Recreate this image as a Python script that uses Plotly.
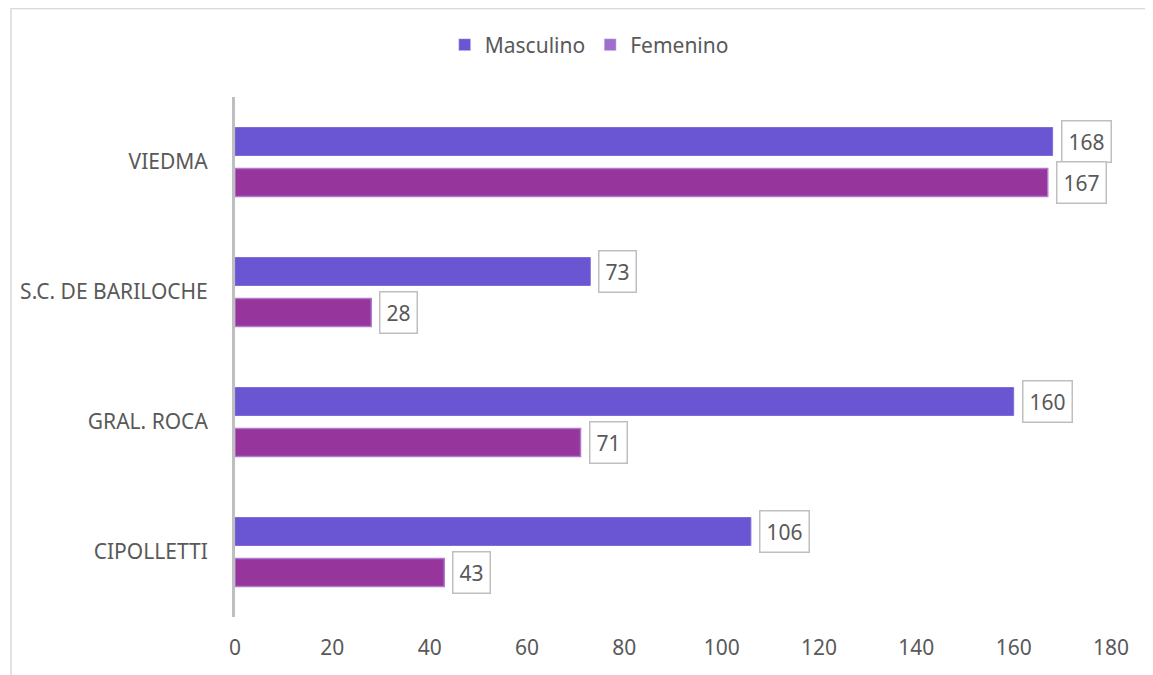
import plotly.graph_objects as go

categories = ["CIPOLLETTI", "GRAL. ROCA", "S.C. DE BARILOCHE", "VIEDMA"]
masculino = [106, 160, 73, 168]
femenino = [43, 71, 28, 167]
x_ticks = [0, 20, 40, 60, 80, 100, 120, 140, 160, 180]

OFF = 8  # page body margin
W, H = 1153, 675
L, R, T, B = 233 - OFF, 1153 - 1111 + OFF, 97 - OFF, 675 - 617 + OFF
pw, ph = W - L - R, H - T - B
FONT = "Noto Sans"
FS = 21

def px_x(p):
    return (p - OFF - L) / pw

def px_y(p):
    return (H - B - (p - OFF)) / ph

fig = go.Figure()
fig.add_trace(go.Bar(
    y=categories, x=femenino, orientation="h", name="Femenino",
    marker=dict(color="#96359C", line=dict(color="#B07ACB", width=1.5)),
    showlegend=False, offsetgroup="f",
))
fig.add_trace(go.Bar(
    y=categories, x=masculino, orientation="h", name="Masculino",
    marker=dict(color="#6A56D2", line=dict(color="#7F6CD8", width=1)),
    showlegend=False, offsetgroup="m",
))
# legend entries (swatch colours as in the reference)
fig.add_trace(go.Bar(y=[None], x=[None], orientation="h", name="Masculino",
                     marker=dict(color="#6A56D2"), legendrank=1, offsetgroup="m"))
fig.add_trace(go.Bar(y=[None], x=[None], orientation="h", name="Femenino",
                     marker=dict(color="#A06ECC"), legendrank=2, offsetgroup="f"))

for cat, m, f in zip(categories, masculino, femenino):
    for val, ys in ((m, 20.5), (f, -20.5)):
        fig.add_annotation(
            x=val, y=cat, xref="x", yref="y", text=str(val), showarrow=False,
            xanchor="left", yanchor="middle", xshift=8, yshift=ys,
            font=dict(family=FONT, size=FS, color="#595959"),
            bordercolor="#BFBFBF", borderwidth=1.5, borderpad=6,
            bgcolor="white",
        )

fig.add_shape(
    type="rect", xref="paper", yref="paper",
    x0=px_x(8.5), x1=px_x(W + 40), y0=px_y(H + 40), y1=px_y(8.5),
    line=dict(color="#D9D9D9", width=1.5), fillcolor="rgba(0,0,0,0)", layer="below",
)

fig.update_layout(
    width=W, height=H,
    margin=dict(l=L, r=R, t=T, b=B),
    paper_bgcolor="white", plot_bgcolor="white",
    barmode="group", bargap=0.37, bargroupgap=0.317,
    font=dict(family=FONT, size=FS, color="#595959"),
    legend=dict(
        orientation="h", x=px_x(588), xanchor="center", y=px_y(45), yanchor="middle",
        font=dict(family=FONT, size=FS, color="#595959"),
        traceorder="normal", itemwidth=30,
    ),
    xaxis=dict(
        range=[0, 180], tickvals=x_ticks, showgrid=False, zeroline=False,
        showline=False, ticks="", ticklabelstandoff=16,
        tickfont=dict(family=FONT, size=FS, color="#595959"),
    ),
    yaxis=dict(
        categoryorder="array", categoryarray=categories,
        showgrid=False, zeroline=False, showline=True, linecolor="#BFBFBF",
        linewidth=3, ticks="", ticklabelstandoff=20,
        tickfont=dict(family=FONT, size=FS, color="#595959"),
    ),
)

fig.write_html("out.html")
